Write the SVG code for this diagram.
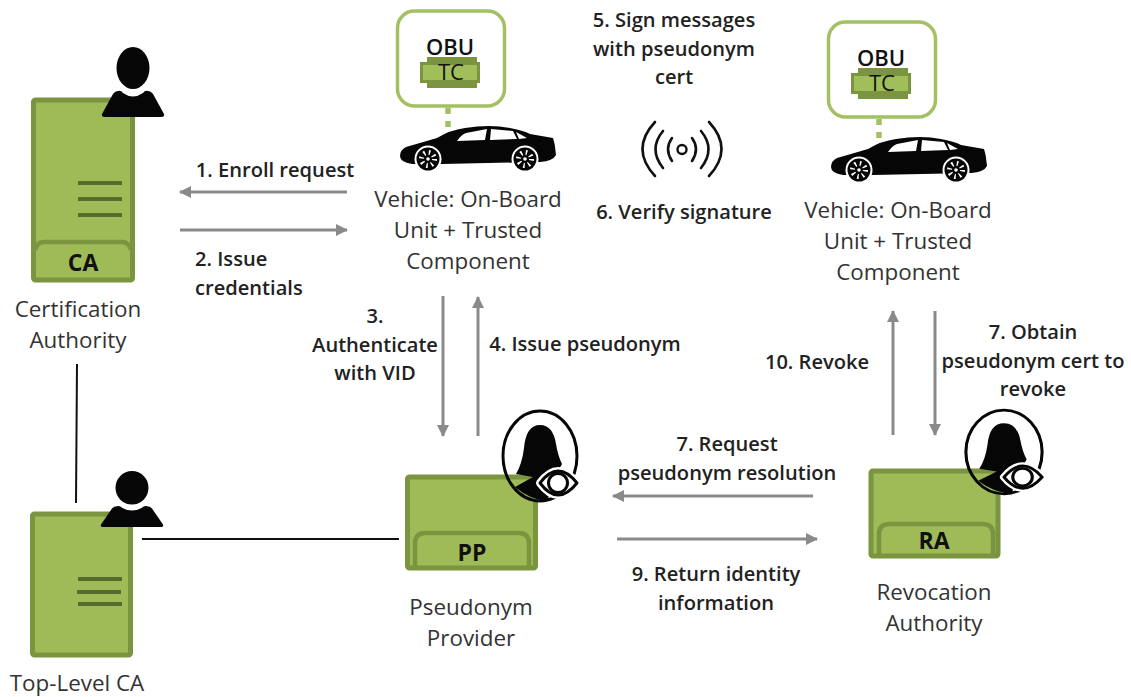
<svg xmlns="http://www.w3.org/2000/svg" xmlns:xlink="http://www.w3.org/1999/xlink" width="1131" height="697" viewBox="0 0 1131 697">
<style>
text{font-family:"Open Sans","Liberation Sans",sans-serif;fill:#222;text-anchor:middle}
.b{font-weight:600;font-size:20.100px;fill:#222}
.n{font-size:22.400px;fill:#333}
.t{font-weight:700;font-size:23px;fill:#111}
.tc{font-size:22px;font-weight:500;fill:#111}
.box{fill:#9fbb58;stroke:#7a9440;stroke-width:5;stroke-linejoin:round}
.tab{fill:none;stroke:#7a9440;stroke-width:4.5}
.ln{stroke:#566b2e;stroke-width:4}
.obu{fill:#fff;stroke:#a3c163;stroke-width:3.5}
.dot{stroke:#a3c163;stroke-width:5.5;stroke-dasharray:6 7}
.arr{stroke:#8a8a8a;stroke-width:3;fill:none;marker-end:url(#ah)}
.k{stroke:#111;stroke-width:2;fill:none}
.wave{fill:none;stroke:#111;stroke-width:2.6;stroke-linecap:round}
</style>
<defs>
<marker id="ah" markerUnits="userSpaceOnUse" markerWidth="13" markerHeight="13" refX="11" refY="6.500" orient="auto"><path d="M0 .5L12 6.500L0 12.500Z" fill="#8a8a8a"/></marker>
<g id="person"><ellipse cx="0" cy="-29" rx="16.500" ry="21" fill="#060606"/><path d="M-15-6Q-12-7-10-4Q0 3 10-4Q12-7 15-6Q18-6 20-3L31 17Q32 20 28 20H-28Q-32 20-31 17L-20-3Q-18-6-15-6Z" fill="#060606"/></g>
<g id="watcher"><ellipse cx="0" cy="0" rx="37" ry="45" fill="none" stroke="#060606" stroke-width="3"/><path d="M0-31Q13-31 16-12Q18 0 22 8L10 30L8 45Q-10 44-25 31L-7 21L-24 18Q-18 8-16-8Q-14-31 0-31Z" fill="#060606"/><path d="M0 27Q18 3 37 27Q18 51 0 27Z" fill="#fff" stroke="#fff" stroke-width="8" stroke-linejoin="round"/><path d="M0 27Q18 3 37 27Q18 51 0 27Z" fill="#fff" stroke="#060606" stroke-width="3" stroke-linejoin="round"/><circle cx="18" cy="27" r="9.500" fill="#fff" stroke="#060606" stroke-width="3"/></g>
<g id="wheel"><circle r="13.500" fill="#fff"/><circle r="11.500" fill="#060606"/><circle r="6.500" fill="none" stroke="#fff" stroke-width="5" stroke-dasharray="1.500 3.600"/><circle r="1.800" fill="#fff"/></g>
<g id="vehicle"><rect class="obu" x="397.500" y="11" width="107" height="95" rx="17"/><text class="t" x="450" y="55" style="font-size:22px;font-weight:600">OBU</text>
<rect x="427" y="57" width="50" height="31" fill="#7a9440"/><rect x="420" y="62" width="60" height="21" fill="#7a9440"/><rect x="423" y="65" width="54" height="15" fill="#a0bf5a"/><text class="tc" x="451" y="80">TC</text>
<line class="dot" x1="448" y1="108" x2="448" y2="134"/>
<path d="M400 156Q400 150 406 147Q420 143 437 138Q450 130 465 128Q490 124 510 128Q525 131 530 134L553 138Q555 145 555 147L556 155Q553 161 540 162L442 164L412 164Q400 162 400 156Z" fill="#060606"/>
<path d="M457 141Q462 134 466 133L487 129L485 140ZM491 129L513 131L517 139L490 140ZM516 132L527 138L519 139Z" fill="#fff"/>
<use href="#wheel" x="428" y="159"/><use href="#wheel" x="525" y="159"/></g>
</defs>
<g id="connectors">
<line class="arr" x1="347" y1="192" x2="180" y2="192"/>
<line class="arr" x1="180" y1="230" x2="347" y2="230"/>
<line class="arr" x1="443" y1="296" x2="443" y2="436"/>
<line class="arr" x1="478" y1="436" x2="478" y2="297"/>
<line class="arr" x1="813" y1="496" x2="613" y2="496"/>
<line class="arr" x1="617" y1="539" x2="817" y2="539"/>
<line class="arr" x1="893" y1="435" x2="893" y2="311"/>
<line class="arr" x1="935" y1="311" x2="935" y2="435"/>
<line class="k" x1="77" y1="364" x2="76" y2="503"/>
<line class="k" x1="142" y1="539" x2="399" y2="539"/>
</g>
<g id="ca"><rect class="box" x="33.500" y="100" width="99" height="180" rx="2"/><path class="tab" d="M35 250Q37 242 44 242H122Q129 242 131 250"/><line class="ln" x1="78" y1="183" x2="122" y2="183"/><line class="ln" x1="78" y1="199" x2="122" y2="199"/><line class="ln" x1="78" y1="215" x2="122" y2="215"/><text class="t" x="83" y="271">CA</text><use href="#person" x="133" y="97"/><text class="n" x="78" y="317">Certification</text><text class="n" x="78" y="348">Authority</text></g>
<g id="tlca"><rect class="box" x="32.500" y="514" width="98" height="141" rx="2"/><line class="ln" x1="78" y1="579" x2="122" y2="579"/><line class="ln" x1="77" y1="592" x2="121" y2="592"/><line class="ln" x1="78" y1="604" x2="122" y2="604"/><use href="#person" transform="translate(132 511) scale(1 .8)"/><text class="n" x="77" y="691">Top-Level CA</text></g>
<g id="pp"><rect class="box" x="407.500" y="477" width="128" height="91" rx="2"/><path class="tab" d="M415 566V542Q416 533 425 533H519Q528 533 529 542V566"/><text class="t" x="472" y="561">PP</text><use href="#watcher" x="540" y="456"/><text class="n" x="471" y="615">Pseudonym</text><text class="n" x="471" y="646">Provider</text></g>
<g id="ra"><rect class="box" x="871" y="471" width="127" height="85" rx="2"/><path class="tab" d="M879 554V533Q880 524 889 524H983Q992 524 993 533V554"/><text class="t" x="934" y="549">RA</text><use href="#watcher" transform="translate(1004 452) scale(1.030 .930)"/><text class="n" x="934" y="600">Revocation</text><text class="n" x="934" y="631">Authority</text></g>
<g id="vehicle1"><use href="#vehicle"/><text class="n" x="468" y="207">Vehicle: On-Board</text><text class="n" x="468" y="238">Unit + Trusted</text><text class="n" x="468" y="269">Component</text></g>
<g id="vehicle2"><use href="#vehicle" x="431" y="11"/><text class="n" x="898" y="218">Vehicle: On-Board</text><text class="n" x="898" y="249">Unit + Trusted</text><text class="n" x="898" y="280">Component</text></g>
<g id="signal"><circle cx="682" cy="149.500" r="4.500" fill="none" stroke="#111" stroke-width="2.400"/><path class="wave" d="M672 138Q664 149 672 161M692 138Q700 149 692 161M663 131Q648 149 663 168M701 131Q716 149 701 168M655 122Q630 149 655 176M709 122Q734 149 709 176"/></g>
<g id="labels">
<text class="b" x="275" y="177">1. Enroll request</text>
<text class="b" x="195" y="266" style="text-anchor:start">2. Issue</text><text class="b" x="195" y="295" style="text-anchor:start">credentials</text>
<text class="b" x="375" y="323">3.</text><text class="b" x="375" y="352">Authenticate</text><text class="b" x="375" y="380">with VID</text>
<text class="b" x="585" y="351">4. Issue pseudonym</text>
<text class="b" x="674" y="27">5. Sign messages</text><text class="b" x="674" y="56">with pseudonym</text><text class="b" x="674" y="84">cert</text>
<text class="b" x="684" y="219">6. Verify signature</text>
<text class="b" x="1033" y="339">7. Obtain</text><text class="b" x="1033" y="368">pseudonym cert to</text><text class="b" x="1033" y="396">revoke</text>
<text class="b" x="817" y="369">10. Revoke</text>
<text class="b" x="727" y="451">7. Request</text><text class="b" x="727" y="480">pseudonym resolution</text>
<text class="b" x="716" y="581">9. Return identity</text><text class="b" x="716" y="610">information</text>
</g>
</svg>
